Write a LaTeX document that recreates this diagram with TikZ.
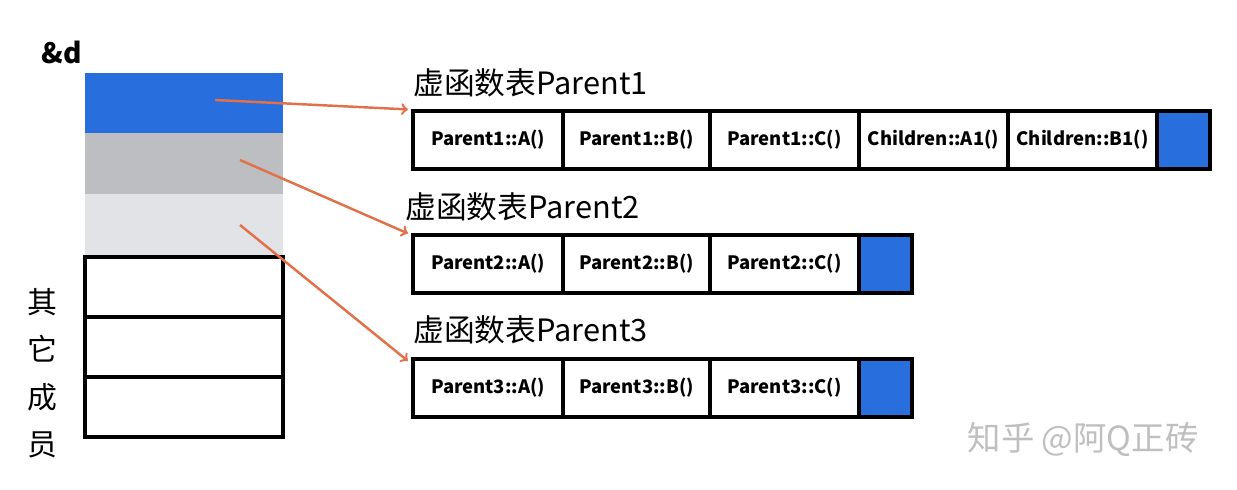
\documentclass[tikz,border=0pt]{standalone}
\usepackage{fontspec}
\setmainfont{Noto Sans CJK SC}
\usepackage{tikz}
\definecolor{bleutab}{RGB}{40,110,220}
\definecolor{grisfonce}{RGB}{188,190,194}
\definecolor{grisclair}{RGB}{226,227,231}
\definecolor{orangefleche}{RGB}{226,112,72}
\tikzstyle{case}=[draw,line width=1.8pt,minimum height=1.16cm,inner sep=0,font=\bfseries\fontsize{10.5}{12}\selectfont]
\tikzstyle{titre}=[anchor=south west,inner sep=0,font=\fontsize{17.5}{20}\selectfont]
\tikzstyle{fleche}=[orangefleche,line width=1.4pt,->]
\begin{document}
\begin{tikzpicture}[x=0.02cm,y=-0.02cm]
\useasboundingbox (0,0) rectangle (1237,490);
% objet d
\fill[bleutab] (85,73) rectangle (283,133);
\fill[grisfonce] (85,133) rectangle (283,194);
\fill[grisclair] (85,194) rectangle (283,255);
\foreach \Y in {257,317,377}
  \draw[line width=2pt] (85,\Y) rectangle (283,\Y+60);
\node[font=\bfseries\fontsize{16}{18}\selectfont] (nomd) at (62,52) {\&d};
\node[font=\fontsize{17}{20}\selectfont,align=center,inner sep=0] (autres) at (42,373) {其\\[7pt]它\\[7pt]成\\[7pt]员};
\coordinate (d1) at (215,100);
\coordinate (d2) at (240,160);
\coordinate (d3) at (240,225);
% tables
\node[titre] (titreA) at (413,97) {虚函数表Parent1};
\node[titre] (titreB) at (405,221) {虚函数表Parent2};
\node[titre] (titreC) at (413,344) {虚函数表Parent3};
\foreach \T/\Y/\N in {A/140/1,B/264/2,C/388/3}{
  \node[case,minimum width=3cm] (\T1) at (488,\Y) {Parent\N::A()};
  \node[case,minimum width=2.94cm] (\T2) at (636.5,\Y) {Parent\N::B()};
  \node[case,minimum width=2.98cm] (\T3) at (784.5,\Y) {Parent\N::C()};
}
\node[case,minimum width=2.98cm] (A4) at (933.5,140) {Children::A1()};
\node[case,minimum width=2.98cm] (A5) at (1082.5,140) {Children::B1()};
\node[case,fill=bleutab,minimum width=1.06cm] (A6) at (1183.5,140) {};
\node[case,fill=bleutab,minimum width=1.06cm] (B4) at (885.5,264) {};
\node[case,fill=bleutab,minimum width=1.06cm] (C4) at (885.5,388) {};
% fleches
\draw[fleche] (d1) -- ([xshift=-2pt]A1.north west);
\draw[fleche] (d2) -- ([xshift=-2pt]B1.north west);
\draw[fleche] (d3) -- ([xshift=-2pt,yshift=-2pt]C1.north west);
\node[text=gray!50,font=\fontsize{19}{22}\selectfont] (marque) at (1083,440) {知乎 @阿Q正砖};
\end{tikzpicture}
\end{document}
